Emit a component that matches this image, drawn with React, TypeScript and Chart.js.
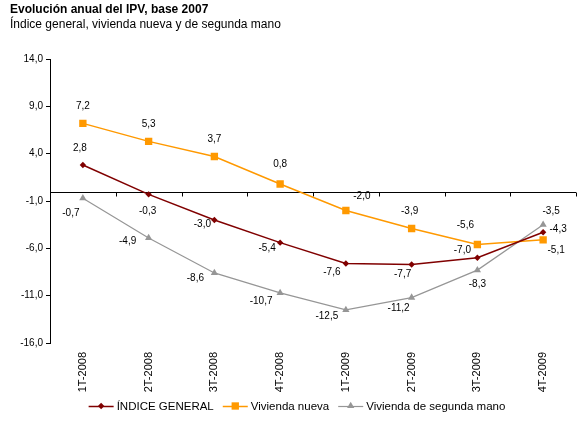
import { useEffect, useRef } from 'react';
import { Chart, registerables } from 'chart.js';

Chart.register(...registerables);

const categories = ['1T-2008', '2T-2008', '3T-2008', '4T-2008', '1T-2009', '2T-2009', '3T-2009', '4T-2009'];
const indiceGeneral = [2.8, -0.3, -3.0, -5.4, -7.6, -7.7, -7.0, -4.3];
const viviendaNueva = [7.2, 5.3, 3.7, 0.8, -2.0, -3.9, -5.6, -5.1];
const segundaMano = [-0.7, -4.9, -8.6, -10.7, -12.5, -11.2, -8.3, -3.5];
const yTicks = [-16, -11, -6, -1, 4, 9, 14];
const seriesNames = ['ÍNDICE GENERAL', 'Vivienda nueva', 'Vivienda de segunda mano'];
const titleText = 'Evolución anual del IPV, base 2007';
const subtitleText = 'Índice general, vivienda nueva y de segunda mano';

// style: label offsets (dx, dy) relative to each point
const labelOffsets = [
  [[-3, -17], [-1, 17], [-12, 4], [-13, 6], [-14, 9], [-9, 10], [-15, -8], [15, -3]],
  [[0, -17], [0, -17], [0, -17], [0, -20], [16, -14], [-2, -17], [-12, -19], [13, 10]],
  [[-12, 15], [-21, 3], [-19, 5], [-19, 8], [-19, 6], [-13, 11], [0, 14], [8, -13]],
];

const FONT = '"Liberation Sans", Arial, sans-serif';
const colors = ['#800000', '#FF9900', '#969696'];
const pointStyles = ['rectRot', 'rect', 'triangle'];
const pointRadii = [3.2, 5.2, 4.2];
const lineWidths = [1.5, 1.5, 1.2];

const fmt = (v: number) => v.toFixed(1).replace('.', ',');

const customPlugin = {
  id: 'customDraw',
  beforeDatasetsDraw(chart: any) {
    const { ctx, chartArea, scales } = chart;
    const x = scales.x;
    const y0 = Math.round(scales.y.getPixelForValue(0)) + 0.5;
    ctx.save();
    ctx.strokeStyle = '#000';
    ctx.lineWidth = 1;
    ctx.beginPath();
    ctx.moveTo(chartArea.left, y0);
    ctx.lineTo(chartArea.right, y0);
    for (let i = 0; i < categories.length; i++) {
      const tx = Math.round(x.getPixelForValue(i + 0.5)) + 0.5;
      ctx.moveTo(tx, y0);
      ctx.lineTo(tx, y0 + 4);
    }
    ctx.stroke();
    ctx.restore();
  },
  afterDraw(chart: any) {
    const { ctx, chartArea, scales } = chart;
    const x = scales.x;
    ctx.save();
    // data labels
    ctx.fillStyle = '#000';
    ctx.font = `10px ${FONT}`;
    ctx.textAlign = 'center';
    ctx.textBaseline = 'middle';
    chart.data.datasets.forEach((ds: any, di: number) => {
      const meta = chart.getDatasetMeta(di);
      meta.data.forEach((pt: any, i: number) => {
        const [dx, dy] = labelOffsets[di][i];
        ctx.fillText(fmt(ds.data[i]), pt.x + dx, pt.y + dy);
      });
    });
    // category labels rotated -90
    ctx.font = `11px ${FONT}`;
    categories.forEach((c, i) => {
      const px = x.getPixelForValue(i);
      ctx.save();
      ctx.translate(px, chartArea.bottom + 9);
      ctx.rotate(-Math.PI / 2);
      ctx.textAlign = 'right';
      ctx.textBaseline = 'middle';
      ctx.fillText(c, 0, 0);
      ctx.restore();
    });
    // title
    ctx.textAlign = 'left';
    ctx.textBaseline = 'alphabetic';
    ctx.font = `bold 12px ${FONT}`;
    ctx.fillStyle = '#000';
    ctx.fillText(titleText, 10, 13);
    ctx.font = `12px ${FONT}`;
    ctx.fillText(subtitleText, 10, 28);
    // legend
    ctx.font = `11.5px ${FONT}`;
    const lineLen = 25;
    const gapText = 3;
    const gapItem = 9;
    const widths = seriesNames.map((n) => ctx.measureText(n).width);
    const total = widths.reduce((a, w) => a + lineLen + gapText + w, 0) + gapItem * (seriesNames.length - 1);
    let lx = 297 - total / 2;
    const ly = 406;
    seriesNames.forEach((n, i) => {
      ctx.strokeStyle = colors[i];
      ctx.lineWidth = lineWidths[i];
      ctx.beginPath();
      ctx.moveTo(lx, ly + 0.5);
      ctx.lineTo(lx + lineLen, ly + 0.5);
      ctx.stroke();
      ctx.fillStyle = colors[i];
      const cx = lx + lineLen / 2;
      const r = pointRadii[i];
      ctx.beginPath();
      if (i === 0) {
        ctx.moveTo(cx - r, ly);
        ctx.lineTo(cx, ly - r);
        ctx.lineTo(cx + r, ly);
        ctx.lineTo(cx, ly + r);
        ctx.closePath();
      } else if (i === 1) {
        const s = r * Math.SQRT1_2;
        ctx.rect(cx - s, ly - s, 2 * s, 2 * s);
      } else {
        ctx.moveTo(cx, ly - r);
        ctx.lineTo(cx + r * 0.866, ly + r / 2);
        ctx.lineTo(cx - r * 0.866, ly + r / 2);
        ctx.closePath();
      }
      ctx.fill();
      ctx.fillStyle = '#000';
      ctx.textBaseline = 'middle';
      ctx.fillText(n, lx + lineLen + gapText, ly + 1);
      lx += lineLen + gapText + widths[i] + gapItem;
    });
    ctx.restore();
  },
};

export default function App() {
  const ref = useRef<HTMLCanvasElement | null>(null);
  useEffect(() => {
    document.body.style.margin = '0';
    const canvas = ref.current;
    if (!canvas) return;
    const series = [indiceGeneral, viviendaNueva, segundaMano];
    const chart = new Chart(canvas, {
      type: 'line',
      data: {
        labels: categories,
        datasets: series.map((d, i) => ({
          label: seriesNames[i],
          data: d,
          borderColor: colors[i],
          backgroundColor: colors[i],
          borderWidth: lineWidths[i],
          pointStyle: pointStyles[i] as any,
          pointRadius: pointRadii[i],
          pointBorderWidth: 0,
          pointBackgroundColor: colors[i],
          tension: 0,
          fill: false,
        })),
      },
      options: {
        animation: false,
        responsive: false,
        devicePixelRatio: window.devicePixelRatio || 1,
        layout: { padding: { top: 59, right: 8, bottom: 95, left: 0 } },
        plugins: {
          legend: { display: false },
          title: { display: false },
          tooltip: { enabled: false },
        },
        scales: {
          x: {
            type: 'category',
            display: false,
            offset: true,
          },
          y: {
            type: 'linear',
            min: -16,
            max: 14,
            afterBuildTicks: (scale: any) => {
              scale.ticks = yTicks.map((v) => ({ value: v }));
            },
            afterFit: (scale: any) => {
              scale.width = 50;
            },
            border: { display: true, color: '#000', width: 1 },
            grid: { display: true, drawOnChartArea: false, drawTicks: true, tickLength: 4, color: '#000' },
            ticks: {
              color: '#000',
              padding: 3,
              font: { family: FONT, size: 10 },
              callback: (v: any) => fmt(Number(v)),
            },
          },
        },
      },
      plugins: [customPlugin],
    });
    return () => chart.destroy();
  }, []);
  return (
    <div style={{ position: 'absolute', left: 0, top: 0, width: 584, height: 438, background: '#fff' }}>
      <canvas ref={ref} width={584} height={438} style={{ width: 584, height: 438, display: 'block' }} />
    </div>
  );
}
